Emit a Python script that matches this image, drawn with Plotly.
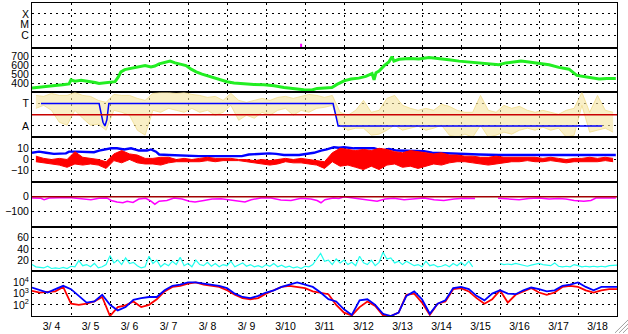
import numpy as np
import plotly.graph_objects as go
from plotly.subplots import make_subplots

# ---------------- data (time = days since 3/4 00:00) ----------------
day_tick_labels = ["3/ 4", "3/ 5", "3/ 6", "3/ 7", "3/ 8", "3/ 9", "3/10", "3/11",
                   "3/12", "3/13", "3/14", "3/15", "3/16", "3/17", "3/18"]

xray_labels = ["C", "M", "X"]
flare_t = [6.9, 6.9]
flare_v = [8e-8, 1.8e-7]

speed_t = [0.00, 0.18, 0.38, 0.59, 0.79, 0.95, 1.00, 1.10, 1.26, 1.46, 1.62, 1.72, 1.87, 2.03, 2.13,
           2.21, 2.28, 2.38, 2.54, 2.74, 2.90, 3.05, 3.15, 3.26, 3.41, 3.54, 3.67, 3.82, 3.95, 4.08,
           4.21, 4.36, 4.54, 4.69, 4.85, 5.00, 5.18, 5.44, 5.69, 5.95, 6.21, 6.46, 6.72, 6.97, 7.18,
           7.31, 7.51, 7.69, 7.82, 8.00, 8.18, 8.38, 8.56, 8.72, 8.77, 8.82, 8.90, 9.03, 9.15, 9.23,
           9.28, 9.41, 9.67, 9.92, 10.18, 10.44, 10.69, 10.95, 11.21, 11.46, 11.72, 11.97, 12.15,
           12.36, 12.54, 12.74, 13.00, 13.26, 13.51, 13.77, 13.97, 14.15, 14.33, 14.54, 14.74, 14.97]
speed_v = [350, 360, 372, 378, 385, 395, 440, 425, 435, 425, 410, 400, 405, 415, 420,
           470, 530, 555, 570, 590, 600, 585, 595, 620, 640, 650, 630, 615, 600, 560,
           530, 505, 480, 455, 440, 420, 405, 395, 390, 385, 375, 355, 340, 330, 328,
           345, 350, 355, 390, 430, 450, 460, 480, 510, 440, 520, 540, 600, 640, 700,
           650, 670, 680, 675, 690, 680, 665, 650, 640, 630, 620, 610, 630,
           640, 650, 640, 625, 610, 580, 560, 490, 475, 468, 450, 455, 455]

sector_labels = ["A", "T"]
sector_t = [0.23, 1.72, 1.82, 1.87, 1.92, 1.97, 7.72, 7.85, 14.62]
sector_v = [270, 270, 120, 90, 140, 270, 270, 90, 90]

# field angle envelope per 0.2-day bin (degrees)
phi_hi = [336, 328, 352, 336, 336, 360, 336, 328, 296, 280, 344, 336, 336, 312, 296,
          352, 360, 360, 352, 360, 344, 336, 320, 328, 296, 352, 296, 280, 296, 312,
          296, 320, 328, 312, 328, 344, 336, 320, 336, 200, 176, 216, 296, 200, 216,
          312, 336, 256, 232, 216, 232, 216, 264, 248, 216, 200, 200, 336, 216, 200,
          256, 232, 248, 216, 200, 216, 200, 184, 216, 232, 360, 200, 336, 216, 200]
phi_lo = [232, 256, 216, 120, 96, 216, 152, 96, 104, 56, 216, 200, 176, 56, 16,
          216, 200, 232, 216, 200, 232, 200, 216, 176, 200, 256, 136, 176, 152, 200,
          176, 216, 232, 176, 216, 200, 232, 240, 256, 96, 56, 72, 72, 16, 24,
          56, 96, 56, 72, 88, 56, 72, 96, 16, 0, 24, 0, 96, 0, 16,
          40, 24, 56, 72, 56, 80, 56, 72, 0, 16, 256, 40, 56, 72, 40]

bt_t = [0.00, 0.18, 0.36, 0.56, 0.87, 0.95, 1.13, 1.33, 1.59, 1.72, 1.92, 2.03, 2.18, 2.36, 2.54,
        2.74, 2.95, 3.05, 3.18, 3.26, 3.51, 3.85, 4.28, 4.79, 5.38, 5.56, 5.82, 6.08, 6.26, 6.46,
        6.85, 7.03, 7.23, 7.41, 7.56, 7.74, 7.87, 8.00, 8.26, 8.51, 8.77, 8.97, 9.15, 9.36, 9.67,
        10.05, 10.26, 10.56, 10.95, 11.46, 11.97, 12.49, 13.00, 13.51, 14.03, 14.54, 14.97]
bt_v = [6, 7, 6, 5, 5.5, 7, 7, 6.5, 6.5, 8, 9, 10, 10, 9, 10,
        8, 8, 9, 7, 4.5, 4, 3.5, 3, 3, 3, 4.5, 5, 5.5, 5, 4,
        4, 5, 6, 8, 9, 11, 10.5, 11, 10, 10, 10, 8, 9.5, 8, 8,
        7.5, 6, 5.5, 5, 4.5, 4, 4, 3.5, 4, 4, 3.5, 4]

# Bz envelope per 0.2-day bin (nT)
bz_hi = [3, 1, 0, 1, 0, 7, 2, 1, 0, -2, 5, 8, 5, 4, 1,
         1, 2, 2, 0, 1, 0, 1, 2, 1, 1, 1, 0, 0, -1, 0,
         -1, 0, 1, 0, 1, 0, -1, -2, 6, 10, 9, 8, 9, 8, 10,
         9, 7, 6, 8, 7, 6, 5, 6, 4, 4, 3, 3, 2, 2, 3,
         2, 2, 2, 2, 2, 1, 2, 1, 0, 1, 1, 2, 1, 2, 1]
bz_lo = [-2, -3, -4, -5, -7, -4, -5, -4, -5, -8, -1, -3, 0, -3, -4,
         -4, -5, -3, -2, -2, -2, -2, -1, -2, -1, -1, -1, -2, -3, -4,
         -5, -4, -2, -3, -3, -4, -5, -8, -2, -6, -5, -7, -9, -6, -9,
         -5, -4, -7, -6, -8, -6, -4, -5, -3, -2, -2, -3, -4, -5, -4,
         -3, -2, -2, -1, -2, -2, -1, -2, -3, -2, -2, -2, -2, -1, -2]

dst_t = [0.00, 0.23, 0.31, 0.44, 0.95, 1.15, 1.33, 1.51, 1.72, 1.92, 2.03, 2.18, 2.33, 2.44, 2.59,
         2.74, 2.92, 3.05, 3.15, 3.26, 3.46, 3.64, 3.85, 4.03, 4.18, 4.41, 4.62, 4.85, 5.05, 5.31,
         5.46, 5.62, 5.87, 6.13, 6.38, 6.64, 6.90, 7.15, 7.31, 7.41, 7.51, 7.72, 7.87, 8.00, 8.13,
         8.38, 8.64, 8.85, 9.05, 9.28, 9.54, 9.79, 10.05, 10.31, 10.56, 10.82, 11.08, 11.36, 11.6,
         11.95, 12.23, 12.49, 12.74, 13.00, 13.26, 13.51, 13.69, 13.90, 14.15, 14.33, 14.46, 14.67,
         14.97]
dst_v = [-8, -10, -20, -8, -5, -8, -15, -20, -10, -8, -25, -35, -40, -30, -38,
         -15, -10, -30, -50, -30, -25, -8, -15, -30, -35, -25, -15, -13, -20, -33,
         -35, -20, -8, -8, -22, -25, -10, -15, -25, -40, -20, -8, -12, 0, -5,
         -12, -25, -30, -15, -10, -20, -12, -8, -20, -25, -15, -10, -12, None,
         -10, -15, -20, -12, -8, -15, -12, -15, -25, -30, -25, -8, -10,
         -8]

# cyan index, every 0.1 day
kp_v = [12, 8, 7, 6, 9, 5, 6, 5, 7, 5, 9, 8, 19, 10, 12, 8, 14, 6, 8, 12,
        28, 15, 20, 12, 24, 14, 16, 10, 6, 8, 27, 14, 20, 8, 14, 10, 18, 12, 25, 10,
        14, 8, 20, 12, 10, 16, 9, 14, 8, 12, 10, 18, 8, 11, 15, 9, 12, 8, 10, 7,
        12, 9, 14, 8, 11, 7, 9, 6, 8, 5, 9, 8, 12, 22, 32, 18, 20, 12, 22, 15,
        20, 12, 16, 10, 27, 15, 12, 20, 10, 16, 34, 22, 24, 15, 18, 12, 18, 14, 10, 12,
        8, 18, 10, 12, 8, 9, 12, 8, 14, 10, 16, 10, 18, 8, None, None, None, None, None, None,
        14, 12, 13, 12, 14, 12, 10, 9, 11, 13, 14, 12, 11, 10, 15, 9, 8, 9, 8, 12,
        10, 8, 9, 8, 9, 8, 9, 8, 10, 11, 11]

flux_labels = ["10<sup>2</sup>", "10<sup>3</sup>", "10<sup>4</sup>"]
# log10 electron flux every 0.2 day
e_red_log = [3.25, 3.1, 3.15, 3.2, 3.6, 2.1, 2.0, 2.1, 2.3, 2.7, 1.0, 1.8, 1.95, 2.3, 1.8,
             2.0, 2.5, 3.2, 3.6, 3.7, 3.9, 4.0, 3.8, 3.7, 3.6, 3.3, 2.9, 2.6, 2.5, 2.6,
             3.0, 3.3, 3.6, 3.7, 3.6, 3.5, 3.2, 3.1, 2.95, 2.0, 1.3, 1.05, 1.8, 2.3, 1.9,
             1.05, 1.0, 1.3, 2.9, 3.0, 2.2, 1.1, 2.1, 2.3, 3.4, 3.5, 3.2, 2.6, 2.1, 2.5,
             3.3, 2.2, 2.9, 3.2, 3.5, 3.1, 2.9, 3.1, 3.6, 3.7, 3.6, 3.3, 3.1, 3.3, 3.4, 3.4]
e_blue_log = [3.55, 3.35, 3.1, 3.4, 3.7, 3.4, 2.8, 2.2, 2.3, 2.9, 2.0, 1.5, 1.8, 2.45, 2.6,
              2.7, 2.7, 3.3, 3.7, 3.8, 4.0, 4.0, 3.9, 3.8, 3.7, 3.5, 3.0, 2.7, 2.6, 2.8,
              3.1, 3.3, 3.6, 3.8, 4.0, 3.8, 3.6, 3.1, 2.5, 2.3, 1.6, 1.1, 2.4, 2.5, 2.0,
              1.2, 1.0, 1.3, 2.8, 3.2, 2.5, 1.2, 2.1, 2.4, 3.5, 3.6, 3.4, 2.8, 2.4, 3.0,
              3.3, 3.0, 2.95, 3.3, 3.55, 3.4, 3.2, 3.3, 3.7, 3.8, 4.0, 3.6, 3.3, 3.6, 3.6, 3.6]

# ---------------- figure ----------------
FONT = "Liberation Sans, Arial, sans-serif"
fig = make_subplots(rows=7, cols=1, shared_xaxes=True, vertical_spacing=0)


def band(fig, hi, lo, step, color, fillcolor, row):
    t = [k * step + step / 2 for k in range(len(hi))]
    fig.add_trace(go.Scatter(x=t, y=lo, mode="lines", line=dict(color=color, width=1)),
                  row=row, col=1)
    fig.add_trace(go.Scatter(x=t, y=hi, mode="lines", fill="tonexty", fillcolor=fillcolor,
                             line=dict(color=color, width=1)), row=row, col=1)


# panel 1: x-ray
fig.add_trace(go.Scatter(x=flare_t, y=flare_v, mode="lines",
                         line=dict(color="#FF00FF", width=2)), row=1, col=1)
# panel 2: speed
fig.add_trace(go.Scatter(x=speed_t, y=speed_v, mode="lines",
                         line=dict(color="#22EE22", width=3)), row=2, col=1)
# panel 3: phi + sector
band(fig, phi_hi, phi_lo, 0.2, "rgba(240,220,140,0.8)", "rgba(245,228,160,0.6)", 3)
fig.add_hline(y=180, line=dict(color="#C80000", width=1.5), row=3, col=1)
fig.add_trace(go.Scatter(x=sector_t, y=sector_v, mode="lines",
                         line=dict(color="#0000FF", width=1.5)), row=3, col=1)
# panel 4: Bt / Bz
fig.add_hline(y=0, line=dict(color="#A00000", width=1.5), row=4, col=1)
fig.add_trace(go.Scatter(x=bt_t, y=bt_v, mode="lines",
                         line=dict(color="#0000FF", width=2.4)), row=4, col=1)
band(fig, bz_hi, bz_lo, 0.2, "#FF0000", "#FF0000", 4)
# panel 5
fig.add_trace(go.Scatter(x=dst_t, y=dst_v, mode="lines", connectgaps=False,
                         line=dict(color="#FF00FF", width=1.5)), row=5, col=1)
fig.add_hline(y=0, line=dict(color="#A00000", width=1.5), row=5, col=1)
# panel 6
kp_t = np.arange(len(kp_v)) * 0.1
fig.add_trace(go.Scatter(x=kp_t, y=kp_v, mode="lines", connectgaps=False,
                         line=dict(color="#22FFEE", width=1.2)), row=6, col=1)
# panel 7
fig.add_hline(y=1e4, line=dict(color="#A00000", width=1.5, dash="10px,5px"), row=7, col=1)
e_t = np.arange(len(e_red_log)) * 0.2
fig.add_trace(go.Scatter(x=e_t, y=10 ** np.array(e_red_log), mode="lines",
                         line=dict(color="#FF0000", width=1.8)), row=7, col=1)
fig.add_trace(go.Scatter(x=e_t, y=10 ** np.array(e_blue_log), mode="lines",
                         line=dict(color="#0000FF", width=1.8)), row=7, col=1)

GRID = dict(showgrid=True, gridcolor="black", gridwidth=1, griddash="2px,4px")
for r in range(1, 8):
    fig.update_xaxes(row=r, col=1, range=[0, 15], showline=True, linecolor="black",
                     linewidth=1, mirror=True, ticks="", showgrid=False, zeroline=False,
                     tickmode="array", tickvals=[k + 0.5 for k in range(15)],
                     ticktext=day_tick_labels, showticklabels=(r == 7),
                     tickfont=dict(size=10.5),
                     minor=dict(tickmode="array", tickvals=list(range(1, 15)),
                                showgrid=True, gridcolor="black", gridwidth=1,
                                griddash="2px,4px", ticks=""))
    fig.update_yaxes(row=r, col=1, showline=True, linecolor="black", linewidth=1,
                     mirror=True, ticks="", zeroline=False, tickfont=dict(size=10.5), **GRID)

fig.update_yaxes(row=1, col=1, type="log", range=[-7.1, -3], tickmode="array",
                 tickvals=[1e-6, 1e-5, 1e-4], ticktext=xray_labels)
fig.update_yaxes(row=2, col=1, range=[300, 800], tickvals=[400, 500, 600, 700])
fig.update_yaxes(row=3, col=1, range=[0, 360], tickvals=[90, 270], ticktext=sector_labels)
fig.update_yaxes(row=4, col=1, range=[-20, 20], tickvals=[-10, 0, 10])
fig.update_yaxes(row=5, col=1, range=[-200, 100], tickvals=[-100, 0])
fig.update_yaxes(row=6, col=1, range=[0, 80], tickvals=[20, 40, 60])
fig.update_yaxes(row=7, col=1, type="log", range=[1, 5], tickvals=[1e2, 1e3, 1e4],
                 ticktext=flux_labels)

# resize grip (decoration)
L, W, B, H = 32, 585, 317, 315
for (x0, y0, x1, y1) in [(615, 334, 628, 321), (619, 334, 628, 325), (623, 334, 628, 329)]:
    fig.add_shape(type="line", xref="paper", yref="paper",
                  x0=(x0 - L) / W, y0=(B - y0) / H, x1=(x1 - L) / W, y1=(B - y1) / H,
                  line=dict(color="#A0A0A0", width=1))

fig.update_layout(width=628, height=334, autosize=False, showlegend=False,
                  margin=dict(l=32, r=11, t=2, b=17),
                  paper_bgcolor="white", plot_bgcolor="white",
                  font=dict(family=FONT, size=10.5, color="black"))

fig.write_html("out.html")
